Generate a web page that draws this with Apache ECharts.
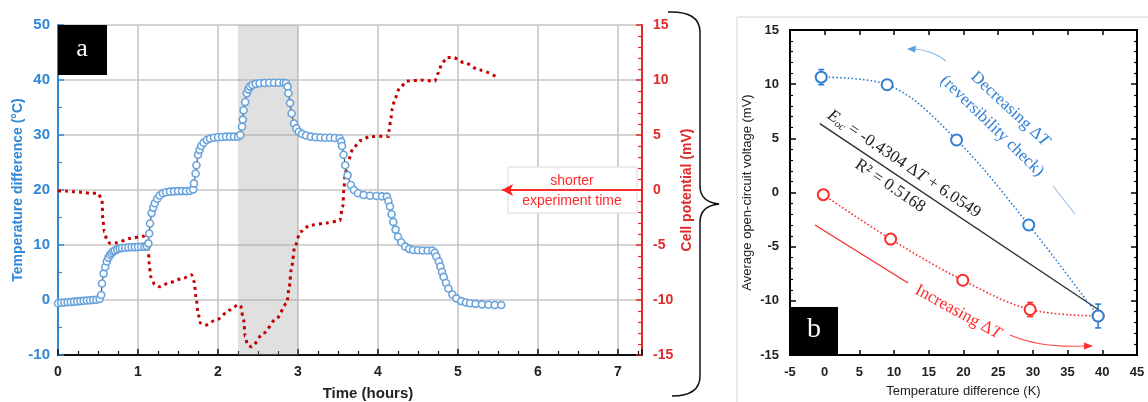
<!DOCTYPE html>
<html><head><meta charset="utf-8">
<script src="https://cdn.jsdelivr.net/npm/echarts@6.0.0/dist/echarts.min.js"></script>
<style>html,body{margin:0;padding:0;background:#fff}#c{width:1148px;height:402px}</style>
</head><body><div id="c"></div>
<script>
// ---------- Panel a data ----------
// [time (hours), temperature difference (°C)]
const tempPoints = [
 [0,-0.6],[0.04,-0.5],[0.08,-0.45],[0.12,-0.4],[0.16,-0.35],[0.2,-0.3],[0.24,-0.25],[0.28,-0.2],[0.32,-0.15],[0.36,-0.1],[0.4,-0.05],[0.44,0],[0.48,0.05],[0.52,0.2],
 [0.54,0.9],[0.55,3.0],[0.57,4.8],[0.59,6.0],[0.61,7.0],[0.63,7.7],[0.65,8.2],[0.67,8.5],[0.69,8.8],[0.71,9.0],[0.74,9.2],[0.77,9.35],[0.8,9.45],[0.84,9.5],[0.88,9.55],[0.92,9.6],[0.96,9.62],[1.0,9.65],[1.04,9.68],[1.08,9.7],[1.11,9.8],
 [1.13,10.3],[1.14,12.1],[1.15,13.9],[1.17,15.8],[1.19,16.8],[1.21,17.6],[1.24,18.4],[1.27,19.0],[1.31,19.4],[1.35,19.6],[1.4,19.7],[1.45,19.75],[1.5,19.8],[1.55,19.8],[1.6,19.8],[1.65,19.85],[1.69,20.1],
 [1.7,21.2],[1.72,23.0],[1.73,24.5],[1.75,26.4],[1.77,27.3],[1.79,28.0],[1.82,28.6],[1.86,29.1],[1.9,29.35],[1.95,29.5],[2.0,29.6],[2.05,29.65],[2.1,29.7],[2.15,29.7],[2.2,29.7],[2.25,29.7],[2.28,30.0],
 [2.3,31.5],[2.31,32.8],[2.32,34.5],[2.34,36.0],[2.36,37.6],[2.38,38.3],[2.4,38.8],[2.43,39.1],[2.47,39.3],[2.52,39.4],[2.58,39.45],[2.64,39.5],[2.7,39.5],[2.76,39.5],[2.82,39.5],[2.85,39.4],
 [2.87,38.8],[2.88,37.6],[2.9,35.8],[2.92,33.9],[2.95,32.1],[2.98,31.2],[3.01,30.6],[3.05,30.2],[3.1,29.9],[3.16,29.7],[3.22,29.6],[3.28,29.55],[3.34,29.5],[3.4,29.5],[3.46,29.45],[3.52,29.4],
 [3.54,28.8],[3.55,28.0],[3.57,26.4],[3.59,24.5],[3.62,22.7],[3.66,20.9],[3.7,20.0],[3.75,19.4],[3.82,19.1],[3.9,18.95],[3.98,18.9],[4.05,18.85],[4.11,18.8],
 [4.13,18.0],[4.15,17.0],[4.17,15.6],[4.19,14.2],[4.22,12.8],[4.25,11.5],[4.29,10.5],[4.34,9.7],[4.39,9.3],[4.44,9.1],[4.5,9.05],[4.56,9.0],[4.62,9.0],[4.68,9.0],[4.71,8.6],
 [4.73,7.9],[4.76,7.0],[4.78,6.1],[4.8,5.1],[4.82,4.2],[4.85,3.1],[4.88,2.1],[4.93,1.0],[4.98,0.3],[5.04,-0.2],[5.1,-0.45],[5.15,-0.6],[5.22,-0.7],[5.3,-0.8],[5.38,-0.85],[5.46,-0.9],[5.54,-0.9]
];
// [time (hours), cell potential (mV)]
const potentialPoints = [
 [0,-0.1],[0.1,-0.1],[0.2,-0.15],[0.3,-0.2],[0.4,-0.3],[0.5,-0.3],[0.55,-0.9],[0.56,-2.7],[0.58,-3.8],[0.61,-4.5],[0.65,-4.85],[0.73,-4.8],[0.9,-4.4],[1.07,-4.2],[1.11,-3.9],
 [1.13,-5.45],[1.14,-6.7],[1.16,-7.9],[1.21,-8.6],[1.27,-8.8],[1.4,-8.4],[1.57,-8.0],[1.67,-7.7],
 [1.7,-8.3],[1.73,-10],[1.75,-11.2],[1.78,-12.1],[1.84,-12.3],[1.98,-11.8],[2.15,-10.9],[2.25,-10.45],
 [2.28,-10.5],[2.32,-11.8],[2.34,-13.3],[2.37,-14.1],[2.42,-14.25],[2.57,-13.0],[2.73,-11.7],[2.86,-10.3],[2.89,-8.8],[2.92,-7.0],[2.96,-5.15],[3.03,-3.8],[3.15,-3.2],[3.36,-3.0],[3.52,-2.8],
 [3.56,-1.5],[3.575,0.3],[3.59,1.5],[3.63,2.7],[3.69,3.8],[3.78,4.5],[3.9,4.85],[4.11,4.9],
 [4.13,4.85],[4.14,5.45],[4.16,6.5],[4.18,7.4],[4.21,8.3],[4.27,9.25],[4.36,9.9],[4.525,10.0],[4.71,9.9],
 [4.75,10.6],[4.8,11.5],[4.86,12.05],[4.94,12.05],[5.07,11.6],[5.275,10.9],[5.5,10.2]
];
const shadedPeriod = [2.25, 3.0];
const experimentEnd = 5.55;
const timeMax = 7.3;

// ---------- Panel b data ----------
const decDeltaT  = [-0.5, 9, 19, 29.4, 39.4];
const decVoltage = [10.65, 9.95, 4.85, -3.0, -11.4];
const decErr     = [0.7, 0.15, 0.15, 0.2, 1.1];
const incDeltaT  = [-0.2, 9.5, 19.9, 29.6, 39.4];
const incVoltage = [-0.2, -4.3, -8.1, -10.8, -11.4];
const incErr     = [0.2, 0.2, 0.2, 0.65, 0];
const fitDeltaT  = [-0.7, 39.4];
const fitVoltage = [6.35, -10.8];

const SANS = 'Liberation Sans, Arial, sans-serif';
const SERIF = 'Liberation Serif, Times New Roman, serif';
const BLUE_A = '#2f87d6', RED_A = '#e02a2a';
const BLUE_B = '#2f7fd2', RED_B = '#ff2a2a';

function pairs(xs, ys){ return xs.map((x,i)=>[x, ys[i]]); }
function errSeries(xs, ys, es, color){
  return {
    type:'custom', xAxisIndex:1, yAxisIndex:2, z:2, silent:true,
    encode:{x:0, y:[1,2]},
    data: xs.map((x,i)=>[x, ys[i]-es[i], ys[i]+es[i], es[i]]).filter(d=>d[3]>0),
    renderItem(params, api){
      const lo = api.coord([api.value(0), api.value(1)]);
      const hi = api.coord([api.value(0), api.value(2)]);
      const w = 3, st = {stroke:color, lineWidth:1.6};
      return {type:'group', children:[
        {type:'line', shape:{x1:lo[0],y1:lo[1],x2:hi[0],y2:hi[1]}, style:st},
        {type:'line', shape:{x1:lo[0]-w,y1:lo[1],x2:lo[0]+w,y2:lo[1]}, style:st},
        {type:'line', shape:{x1:hi[0]-w,y1:hi[1],x2:hi[0]+w,y2:hi[1]}, style:st}
      ]};
    }
  };
}

const grayGrid = {show:true, lineStyle:{color:'#c6c6c6', width:1.6}};
const braceStyle = {stroke:'#111', lineWidth:1.5, fill:null};

const chart = echarts.init(document.getElementById('c'));
chart.setOption({
  animation:false,
  backgroundColor:'#fff',
  grid:[
    {left:58, top:25, width:584, height:330, show:false, containLabel:false, outerBoundsMode:'none'},
    {left:790, top:30, width:347, height:325, show:true, borderColor:'#000', borderWidth:2, backgroundColor:'transparent', containLabel:false, outerBoundsMode:'none'}
  ],
  xAxis:[
    {gridIndex:0, type:'value', min:0, max:timeMax, interval:1,
     name:'Time (hours)', nameLocation:'middle', nameGap:31, nameMoveOverlap:false,
     nameTextStyle:{fontFamily:SANS, fontWeight:'bold', fontSize:15, color:'#222', padding:[0,0,0,36]},
     axisLine:{show:true, onZero:false, lineStyle:{color:'#111', width:2}},
     axisTick:{show:true, inside:true, length:6, lineStyle:{color:'#111', width:1.5}},
     minorTick:{show:true, splitNumber:4, length:4, lineStyle:{color:'#111', width:1.2}},
     axisLabel:{fontFamily:SANS, fontWeight:'bold', fontSize:14, color:'#222', margin:10, showMaxLabel:false,
       formatter:v=>Number.isInteger(v)?String(v):''},
     splitLine:grayGrid},
    {gridIndex:1, type:'value', min:-5, max:45, interval:5,
     name:'Temperature difference (K)', nameLocation:'middle', nameGap:30, nameMoveOverlap:false,
     nameTextStyle:{fontFamily:SANS, fontSize:13, color:'#222'},
     axisLine:{show:true, onZero:false, lineStyle:{color:'#000', width:2}},
     axisTick:{show:true, inside:true, length:5, lineStyle:{color:'#000', width:1.5}},
     axisLabel:{fontFamily:SANS, fontWeight:'bold', fontSize:13, color:'#222', margin:11},
     splitLine:{show:false}},
    {gridIndex:1, type:'value', min:-5, max:45, interval:5, position:'top',
     axisLine:{show:true, onZero:false, lineStyle:{color:'#000', width:2}},
     axisTick:{show:true, inside:true, length:5, lineStyle:{color:'#000', width:1.5}},
     axisLabel:{show:false}, splitLine:{show:false}}
  ],
  yAxis:[
    {gridIndex:0, type:'value', min:-10, max:50, interval:10, position:'left',
     name:'Temperature difference (\u00B0C)', nameLocation:'middle', nameGap:33, nameMoveOverlap:false,
     nameTextStyle:{fontFamily:SANS, fontWeight:'bold', fontSize:14, color:BLUE_A},
     axisLine:{show:true, onZero:false, lineStyle:{color:BLUE_A, width:2}},
     axisTick:{show:true, inside:true, length:6, lineStyle:{color:BLUE_A, width:1.5}},
     minorTick:{show:true, splitNumber:2, length:4, lineStyle:{color:BLUE_A, width:1.2}},
     axisLabel:{fontFamily:SANS, fontWeight:'bold', fontSize:15, color:BLUE_A, margin:8},
     splitLine:grayGrid},
    {gridIndex:0, type:'value', min:-15, max:15, interval:5, position:'right',
     name:'Cell potential (mV)', nameLocation:'middle', nameGap:38, nameMoveOverlap:false,
     nameTextStyle:{fontFamily:SANS, fontWeight:'bold', fontSize:14, color:RED_A},
     axisLine:{show:true, onZero:false, lineStyle:{color:RED_A, width:2}},
     axisTick:{show:true, inside:true, length:6, lineStyle:{color:RED_A, width:1.5}},
     minorTick:{show:true, splitNumber:5, length:4, lineStyle:{color:RED_A, width:1.2}},
     axisLabel:{fontFamily:SANS, fontWeight:'bold', fontSize:14, color:RED_A, margin:11},
     splitLine:{show:false}},
    {gridIndex:1, type:'value', min:-15, max:15, interval:5, position:'left',
     name:'Average open-circuit voltage (mV)', nameLocation:'middle', nameGap:36, nameMoveOverlap:false,
     nameTextStyle:{fontFamily:SANS, fontSize:13, color:'#222'},
     axisLine:{show:true, onZero:false, lineStyle:{color:'#000', width:2}},
     axisTick:{show:true, inside:true, length:6, lineStyle:{color:'#000', width:1.5}},
     minorTick:{show:true, splitNumber:5, length:3, lineStyle:{color:'#000', width:1.2}},
     axisLabel:{fontFamily:SANS, fontWeight:'bold', fontSize:13, color:'#222', margin:11},
     splitLine:{show:false}},
    {gridIndex:1, type:'value', min:-15, max:15, interval:5, position:'right',
     axisLine:{show:true, onZero:false, lineStyle:{color:'#000', width:2}},
     axisTick:{show:true, inside:true, length:6, lineStyle:{color:'#000', width:1.5}},
     minorTick:{show:true, splitNumber:5, length:3, lineStyle:{color:'#000', width:1.2}},
     axisLabel:{show:false}, splitLine:{show:false}}
  ],
  series:[
    {type:'line', name:'Cell potential', xAxisIndex:0, yAxisIndex:1, data:potentialPoints,
     showSymbol:false, smooth:0.3, smoothMonotone:'x', z:3,
     lineStyle:{color:'#c40000', width:3, type:[3,4], cap:'butt'},
     markArea:{silent:true, itemStyle:{color:'rgba(160,160,160,0.32)'},
       data:[[{xAxis:shadedPeriod[0]},{xAxis:shadedPeriod[1]}]]},
     markLine:{silent:true, symbol:['none','arrow'], symbolSize:[9,11], label:{show:false},
       lineStyle:{color:'#ff2020', width:1.6, type:'solid'},
       data:[[{coord:[timeMax,0]},{coord:[experimentEnd,0]}]]}
    },
    {type:'line', name:'Temperature difference', xAxisIndex:0, yAxisIndex:0, data:tempPoints,
     symbol:'circle', symbolSize:7, showAllSymbol:true, z:4,
     itemStyle:{color:'#ffffff', borderColor:'#6aa3dc', borderWidth:1.6},
     lineStyle:{color:'#333', width:1}},
    {type:'line', name:'Increasing', xAxisIndex:1, yAxisIndex:2, data:pairs(incDeltaT, incVoltage),
     smooth:0.35, symbol:'circle', symbolSize:11, z:4,
     itemStyle:{color:'#fff', borderColor:RED_B, borderWidth:2},
     lineStyle:{color:RED_B, width:1.6, type:[1.6,2.2]}},
    {type:'line', name:'fit', xAxisIndex:1, yAxisIndex:2, data:pairs(fitDeltaT, fitVoltage),
     showSymbol:false, z:3, lineStyle:{color:'#333', width:1.5}},
    {type:'line', name:'Decreasing', xAxisIndex:1, yAxisIndex:2, data:pairs(decDeltaT, decVoltage),
     smooth:0.35, symbol:'circle', symbolSize:11, z:5,
     itemStyle:{color:'#fff', borderColor:BLUE_B, borderWidth:2},
     lineStyle:{color:BLUE_B, width:1.6, type:[1.6,2.2]}},
    errSeries(incDeltaT, incVoltage, incErr, RED_B),
    errSeries(decDeltaT, decVoltage, decErr, BLUE_B)
  ],
  graphic:[
    {type:'rect', z:-10, shape:{x:737, y:17, width:430, height:420}, style:{fill:'none', stroke:'#d2d2d2', lineWidth:1}},
    {type:'rect', z:20, shape:{x:58, y:25, width:49, height:50}, style:{fill:'#000'}},
    {type:'text', z:21, x:82, y:49, style:{text:'a', fill:'#fff', fontFamily:SERIF, fontSize:26, align:'center', verticalAlign:'middle'}},
    {type:'rect', z:20, shape:{x:790, y:307, width:48, height:48}, style:{fill:'#000'}},
    {type:'text', z:21, x:814, y:330, style:{text:'b', fill:'#fff', fontFamily:SERIF, fontSize:28, align:'center', verticalAlign:'middle'}},
    {type:'rect', z:5, shape:{x:508, y:167, width:129, height:46}, style:{fill:'#fff', stroke:'#d8d8d8', lineWidth:1}},
    {type:'text', z:6, x:572, y:181, style:{text:'shorter', fill:'#ff2a2a', fontFamily:SANS, fontSize:14, align:'center', verticalAlign:'middle'}},
    {type:'text', z:6, x:572, y:201, style:{text:'experiment time', fill:'#ff2a2a', fontFamily:SANS, fontSize:14, align:'center', verticalAlign:'middle'}},
    {type:'line', z:7, shape:{x1:508, y1:190, x2:637, y2:190}, style:{stroke:'#ff2020', lineWidth:1.6}},
    // brace
    {type:'bezierCurve', z:5, shape:{x1:668, y1:12, cpx1:700, cpy1:11, x2:700, y2:32}, style:braceStyle},
    {type:'line', z:5, shape:{x1:700, y1:32, x2:700, y2:186}, style:braceStyle},
    {type:'bezierCurve', z:5, shape:{x1:700, y1:186, cpx1:700, cpy1:202, x2:719, y2:204}, style:braceStyle},
    {type:'bezierCurve', z:5, shape:{x1:719, y1:204, cpx1:700, cpy1:206, x2:700, y2:222}, style:braceStyle},
    {type:'line', z:5, shape:{x1:700, y1:222, x2:700, y2:376}, style:braceStyle},
    {type:'bezierCurve', z:5, shape:{x1:700, y1:376, cpx1:700, cpy1:396, x2:672, y2:396}, style:braceStyle},
    // panel b annotations
    {type:'text', z:10, x:1010, y:109, rotation:-0.75, style:{text:'{n|Decreasing \u0394}{i|T}', fill:BLUE_B,
      rich:{n:{fontFamily:SERIF, fontSize:17, fill:BLUE_B}, i:{fontFamily:SERIF, fontSize:17, fontStyle:'italic', fill:BLUE_B}}, align:'center', verticalAlign:'middle'}},
    {type:'text', z:10, x:992, y:126, rotation:-0.77, style:{text:'(reversibility check)', fill:BLUE_B, fontFamily:SERIF, fontSize:17, align:'center', verticalAlign:'middle'}},
    {type:'text', z:10, x:904, y:164, rotation:-0.59, style:{text:'{i|E}{s|oc}{n| = -0.4304 \u0394}{i|T}{n| + 6.0549}', fill:'#222',
      rich:{n:{fontFamily:SERIF, fontSize:17, fill:'#222'}, i:{fontFamily:SERIF, fontSize:17, fontStyle:'italic', fill:'#222'},
            s:{fontFamily:SERIF, fontSize:11, fontStyle:'italic', fill:'#222', padding:[8,0,0,0]}}, align:'center', verticalAlign:'middle'}},
    {type:'text', z:10, x:890, y:186, rotation:-0.6, style:{text:'{i|R}{n|\u00B2 = 0.5168}', fill:'#222',
      rich:{n:{fontFamily:SERIF, fontSize:17, fill:'#222'}, i:{fontFamily:SERIF, fontSize:17, fill:'#222'}}, align:'center', verticalAlign:'middle'}},
    {type:'text', z:10, x:958, y:312, rotation:-0.5, style:{text:'{n|Increasing \u0394}{i|T}', fill:RED_B,
      rich:{n:{fontFamily:SERIF, fontSize:17, fill:RED_B}, i:{fontFamily:SERIF, fontSize:17, fontStyle:'italic', fill:RED_B}}, align:'center', verticalAlign:'middle'}},
    {type:'bezierCurve', z:9, shape:{x1:946, y1:61, cpx1:932, cpy1:50, x2:914, y2:49}, style:{stroke:'#7fb2e6', lineWidth:1.2, fill:null}},
    {type:'polygon', z:9, shape:{points:[[907,49],[916,45.5],[915,52.5]]}, style:{fill:'#5b9be0'}},
    {type:'line', z:9, shape:{x1:1053, y1:186, x2:1075, y2:214}, style:{stroke:'#9cc4ec', lineWidth:1.2}},
    {type:'line', z:9, shape:{x1:815, y1:225, x2:908, y2:283}, style:{stroke:'#ff2a2a', lineWidth:1.3}},
    {type:'bezierCurve', z:9, shape:{x1:1010, y1:335, cpx1:1040, cpy1:348, x2:1084, y2:346}, style:{stroke:'#ff4a4a', lineWidth:1.2, fill:null}},
    {type:'polygon', z:9, shape:{points:[[1093,346],[1084,342.5],[1084,349.5]]}, style:{fill:'#ff2a2a'}}
  ]
});
</script>
</body></html>
